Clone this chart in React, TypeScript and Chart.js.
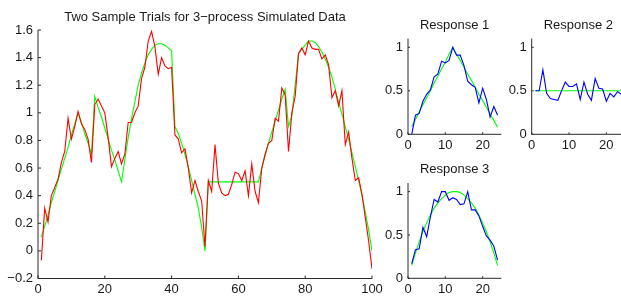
import React, { useEffect, useRef } from 'react';
import { Chart, registerables } from 'chart.js';

Chart.register(...registerables);

const FONT_FAMILY = '"Liberation Sans", Arial, Helvetica, sans-serif';
const TEXT_COLOR = '#1a1a1a';
const AXIS_COLOR = '#2a2a2a';
const RED = '#ff0000';
const GREEN = '#00ff00';
const BLUE = '#0000ff';

// ---------- Main plot data (x = 1..100) ----------
const mainRed = [
  -0.07, 0.31, 0.21, 0.40, 0.46, 0.52, 0.64, 0.72, 0.96, 0.81,
  0.90, 1.01, 0.92, 0.88, 0.81, 0.64, 1.06, 1.10, 1.05, 1.00,
  0.82, 0.61, 0.67, 0.72, 0.63, 0.70, 0.93, 0.93, 1.00, 1.05,
  1.25, 1.33, 1.52, 1.59, 1.48, 1.28, 1.40, 1.34, 1.32, 1.33,
  0.84, 0.81, 0.71, 0.74, 0.60, 0.42, 0.51, 0.43, 0.36, 0.03,
  0.51, 0.43, 0.77, 0.49, 0.42, 0.40, 0.41, 0.48, 0.57, 0.56,
  0.51, 0.58, 0.40, 0.63, 0.43, 0.35, 0.60, 0.70, 0.78, 0.80,
  0.96, 0.94, 1.18, 1.13, 0.72, 1.00, 1.12, 1.43, 1.47, 1.42,
  1.52, 1.47, 1.46, 1.46, 1.39, 1.42, 1.35, 1.11, 1.16, 1.05,
  1.16, 0.77, 0.86, 0.67, 0.51, 0.53, 0.41, 0.24, 0.07, -0.13,
];
const mainGreen = [
  0.10, 0.18, 0.26, 0.35, 0.43, 0.51, 0.59, 0.67, 0.75, 0.84,
  0.92, 1.00, 0.93, 0.85, 0.78, 0.70, 1.12, 1.04, 0.97, 0.89,
  0.81, 0.73, 0.66, 0.58, 0.50, 0.66, 0.82, 0.96, 1.08, 1.20,
  1.29, 1.36, 1.42, 1.46, 1.49, 1.50, 1.50, 1.49, 1.47, 1.45,
  0.90, 0.85, 0.78, 0.70, 0.61, 0.51, 0.41, 0.31, 0.17, 0.00,
  0.50, 0.50, 0.50, 0.50, 0.50, 0.50, 0.50, 0.50, 0.50, 0.50,
  0.50, 0.50, 0.50, 0.50, 0.50, 0.50, 0.60, 0.69, 0.78, 0.86,
  0.94, 1.02, 1.10, 1.17, 0.90, 0.98, 1.20, 1.43, 1.46, 1.49,
  1.52, 1.52, 1.51, 1.48, 1.44, 1.39, 1.33, 1.26, 1.17, 1.08,
  0.99, 0.90, 0.81, 0.71, 0.61, 0.51, 0.40, 0.28, 0.15, 0.00,
];
const mainXTicks = [0, 20, 40, 60, 80, 100];
const mainXTickLabels = ['0', '20', '40', '60', '80', '100'];
const mainYTicks = [-0.2, 0, 0.2, 0.4, 0.6, 0.8, 1, 1.2, 1.4, 1.6];
const mainYTickLabels = ['\u22120.2', '0', '0.2', '0.4', '0.6', '0.8', '1', '1.2', '1.4', '1.6'];

// ---------- Response subplots (x = 1..24) ----------
const resp1Blue = [
  0.00, 0.22, 0.24, 0.38, 0.46, 0.51, 0.66, 0.69, 0.84, 0.82, 0.85, 1.00,
  0.91, 0.91, 0.79, 0.61, 0.57, 0.54, 0.36, 0.53, 0.40, 0.20, 0.32, 0.22,
];
const resp1Green = [
  0.09, 0.17, 0.26, 0.34, 0.42, 0.50, 0.59, 0.67, 0.75, 0.83, 0.92, 1.00,
  0.92, 0.85, 0.77, 0.69, 0.62, 0.54, 0.46, 0.39, 0.31, 0.23, 0.16, 0.08,
];
const resp2Blue = [
  0.50, 0.50, 0.74, 0.47, 0.41, 0.40, 0.39, 0.50, 0.60, 0.55, 0.55, 0.58,
  0.40, 0.60, 0.46, 0.39, 0.64, 0.53, 0.52, 0.38, 0.47, 0.43, 0.49, 0.46,
];
const resp2Green = [
  0.50, 0.50, 0.50, 0.50, 0.50, 0.50, 0.50, 0.50, 0.50, 0.50, 0.50, 0.50,
  0.50, 0.50, 0.50, 0.50, 0.50, 0.50, 0.50, 0.50, 0.50, 0.50, 0.50, 0.50,
];
const resp3Blue = [
  0.17, 0.33, 0.34, 0.59, 0.48, 0.71, 0.91, 0.88, 1.00, 1.00, 0.90, 0.93,
  0.91, 0.85, 0.86, 1.00, 0.79, 0.79, 0.72, 0.60, 0.49, 0.44, 0.37, 0.21,
];
const resp3Green = [
  0.15, 0.29, 0.42, 0.54, 0.64, 0.73, 0.81, 0.87, 0.92, 0.96, 0.99, 1.00,
  1.00, 0.99, 0.96, 0.92, 0.87, 0.81, 0.73, 0.64, 0.54, 0.42, 0.29, 0.15,
];
const subXTicks = [0, 10, 20];
const subXTickLabels = ['0', '10', '20'];
const subYTicks = [0, 0.5, 1];
const subYTickLabels = ['0', '0.5', '1'];

type Rect = { left: number; top: number; width: number; height: number };
type Area = { l: number; t: number; r: number; b: number };
type Series = { values: number[]; color: string };

interface PlotProps {
  canvas: Rect;
  area: Area;
  title: string;
  titleGap: number;
  tickLen: number;
  series: Series[];
  xMin: number; xMax: number; yMin: number; yMax: number;
  xTicks: number[]; xTickLabels: string[];
  yTicks: number[]; yTickLabels: string[];
}

const matlabAxes = {
  id: 'matlabAxes',
  beforeDatasetsDraw(chart: any, _args: any, opts: any) {
    const { ctx, chartArea: a, scales } = chart;
    ctx.save();
    ctx.strokeStyle = AXIS_COLOR;
    ctx.lineWidth = 1;
    ctx.beginPath();
    ctx.moveTo(a.left, a.top);
    ctx.lineTo(a.left, a.bottom);
    ctx.lineTo(a.right, a.bottom);
    const tl = opts.tickLen || 3;
    for (const t of scales.x.ticks) {
      const px = scales.x.getPixelForValue(t.value);
      ctx.moveTo(px, a.bottom);
      ctx.lineTo(px, a.bottom - tl);
    }
    for (const t of scales.y.ticks) {
      const py = scales.y.getPixelForValue(t.value);
      ctx.moveTo(a.left, py);
      ctx.lineTo(a.left + tl, py);
    }
    ctx.stroke();
    if (opts.title) {
      ctx.fillStyle = TEXT_COLOR;
      ctx.font = `13px ${FONT_FAMILY}`;
      ctx.textAlign = 'center';
      ctx.textBaseline = 'alphabetic';
      ctx.fillText(opts.title, (a.left + a.right) / 2, a.top - opts.gap);
    }
    ctx.restore();
  },
};

function Plot(p: PlotProps) {
  const ref = useRef<HTMLCanvasElement>(null);
  useEffect(() => {
    const c = p.canvas;
    const a = p.area;
    const padTop = a.t - c.top;
    const yW = a.l - c.left;
    const padRight = c.left + c.width - a.r;
    const xH = c.top + c.height - a.b;
    const font = { family: FONT_FAMILY, size: 13 };
    const chart = new Chart(ref.current as HTMLCanvasElement, {
      type: 'line',
      data: {
        datasets: p.series.map((s) => ({
          data: s.values.map((v, i) => ({ x: i + 1, y: v })),
          borderColor: s.color,
          backgroundColor: s.color,
          borderWidth: 1.1,
          pointRadius: 0,
          tension: 0,
          fill: false,
        })),
      },
      options: {
        animation: false,
        responsive: false,
        devicePixelRatio: 1,
        events: [],
        layout: { padding: { top: padTop, right: padRight, left: 0, bottom: 0 } },
        plugins: {
          legend: { display: false },
          tooltip: { enabled: false },
          title: { display: false },
          matlabAxes: { title: p.title, gap: p.titleGap, tickLen: p.tickLen },
        } as any,
        scales: {
          x: {
            type: 'linear',
            min: p.xMin,
            max: p.xMax,
            grid: { display: false, drawTicks: false },
            border: { display: false },
            ticks: {
              padding: 3,
              autoSkip: false,
              maxRotation: 0,
              font,
              color: TEXT_COLOR,
              callback: (_v: any, i: number) => p.xTickLabels[i],
            },
            afterBuildTicks: (s: any) => {
              s.ticks = p.xTicks.map((v) => ({ value: v }));
            },
            afterFit: (s: any) => {
              s.height = xH;
            },
          },
          y: {
            type: 'linear',
            min: p.yMin,
            max: p.yMax,
            grid: { display: false, drawTicks: false },
            border: { display: false },
            ticks: {
              padding: 5,
              autoSkip: false,
              font,
              color: TEXT_COLOR,
              callback: (_v: any, i: number) => p.yTickLabels[i],
            },
            afterBuildTicks: (s: any) => {
              s.ticks = p.yTicks.map((v) => ({ value: v }));
            },
            afterFit: (s: any) => {
              s.width = yW;
            },
          },
        } as any,
      },
      plugins: [matlabAxes as any],
    });
    return () => chart.destroy();
  }, []);
  return (
    <canvas
      ref={ref}
      width={p.canvas.width}
      height={p.canvas.height}
      style={{ position: 'absolute', left: p.canvas.left, top: p.canvas.top }}
    />
  );
}

export default function App() {
  return (
    <div
      style={{
        position: 'fixed',
        left: 0,
        top: 0,
        width: 621,
        height: 299,
        overflow: 'hidden',
        background: '#ffffff',
      }}
    >
      <Plot
        canvas={{ left: 0, top: 0, width: 386, height: 299 }}
        area={{ l: 38, t: 30, r: 372, b: 278.5 }}
        title={'Two Sample Trials for 3\u2212process Simulated Data'}
        titleGap={9}
        tickLen={3}
        series={[{ values: mainRed, color: RED }, { values: mainGreen, color: GREEN }]}
        xMin={0} xMax={100} yMin={-0.2} yMax={1.6}
        xTicks={mainXTicks} xTickLabels={mainXTickLabels}
        yTicks={mainYTicks} yTickLabels={mainYTickLabels}
      />
      <Plot
        canvas={{ left: 380, top: 0, width: 133, height: 162 }}
        area={{ l: 408, t: 38.6, r: 501.3, b: 134.3 }}
        title="Response 1"
        titleGap={9.3}
        tickLen={2}
        series={[{ values: resp1Blue, color: BLUE }, { values: resp1Green, color: GREEN }]}
        xMin={0} xMax={25} yMin={0} yMax={1.1}
        xTicks={subXTicks} xTickLabels={subXTickLabels}
        yTicks={subYTicks} yTickLabels={subYTickLabels}
      />
      <Plot
        canvas={{ left: 504, top: 0, width: 133, height: 162 }}
        area={{ l: 531.7, t: 38.6, r: 625, b: 134.3 }}
        title="Response 2"
        titleGap={9.3}
        tickLen={2}
        series={[{ values: resp2Blue, color: BLUE }, { values: resp2Green, color: GREEN }]}
        xMin={0} xMax={25} yMin={0} yMax={1.1}
        xTicks={subXTicks} xTickLabels={subXTickLabels}
        yTicks={subYTicks} yTickLabels={subYTickLabels}
      />
      <Plot
        canvas={{ left: 380, top: 155, width: 133, height: 144 }}
        area={{ l: 408, t: 183, r: 501.3, b: 278.3 }}
        title="Response 3"
        titleGap={10.3}
        tickLen={2}
        series={[{ values: resp3Blue, color: BLUE }, { values: resp3Green, color: GREEN }]}
        xMin={0} xMax={25} yMin={0} yMax={1.1}
        xTicks={subXTicks} xTickLabels={subXTickLabels}
        yTicks={subYTicks} yTickLabels={subYTickLabels}
      />
    </div>
  );
}
